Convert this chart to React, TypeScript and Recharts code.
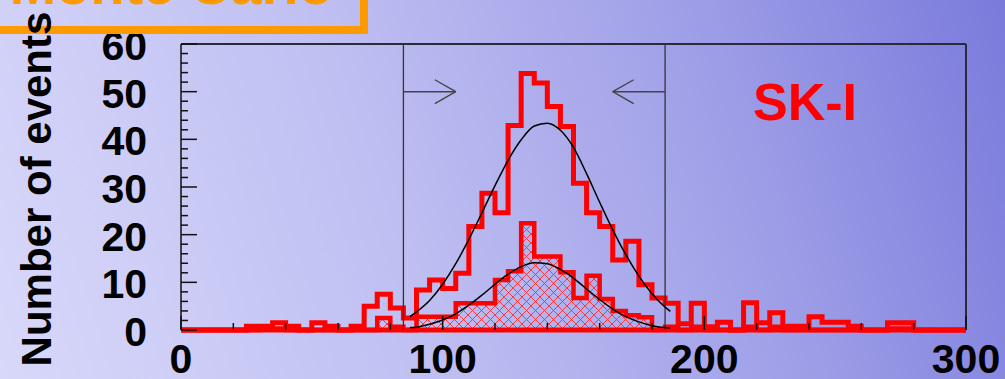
import React from "react";
import { ComposedChart, Area, Line, XAxis, YAxis, ReferenceLine } from "recharts";

// histogram, 5 units per bin, 0..300
const binWidth = 5;
const allEvents = [
  0, 0, 0, 0, 0, 0.8, 0.8, 1.5, 0.8, 0,
  1.5, 0.8, 0, 0.8, 5, 7.5, 4.6, 2.5, 8.4, 10.5,
  8.7, 11.9, 21.7, 28.7, 24.6, 42.9, 53.8, 51.8, 46.9, 42.7,
  30.8, 24.6, 21.7, 14.7, 18.6, 9.5, 6.7, 5.6, 1.3, 5.6,
  0.7, 1.6, 0, 5.7, 1.5, 3.6, 0.8, 0.8, 2.8, 1.6,
  1.6, 0.8, 0, 0, 1.5, 1.5, 0, 0, 0, 0,
];
const selectedEvents = [
  0, 0, 0, 0, 0, 0, 0.3, 0.3, 0, 0,
  0, 0, 0, 0, 0, 2.5, 0.7, 0, 2.8, 2.8,
  2.8, 5.6, 5.6, 5.6, 10.5, 12.3, 22.4, 15.4, 15.4, 12.1,
  6.7, 11.4, 6.5, 4.0, 3.1, 2.7, 0, 0.7, 0, 0.7,
  0, 0, 0, 0.7, 0, 0.7, 0, 0, 0, 0,
  0, 0, 0, 0, 0.3, 0.3, 0, 0, 0, 0,
];

// fitted curves
const fitX = [87.5, 90, 95, 100, 105, 110, 115, 120, 125, 130, 135, 140, 145, 150, 155, 160, 165, 170, 175, 180, 185, 187];
const fitAll = [2.8, 3.8, 6.2, 9.6, 13.9, 19.0, 24.6, 30.3, 35.6, 39.9, 42.8, 43.4, 41.9, 38.3, 32.8, 26.8, 21.0, 15.8, 11.3, 7.6, 4.8, 3.9];
const fitSel = [0.5, 0.6, 1.2, 2.1, 3.4, 5.2, 7.3, 9.6, 11.7, 13.3, 14.1, 13.9, 12.7, 10.9, 8.6, 6.4, 4.4, 2.8, 1.7, 0.9, 0.5, 0.4];

const xTicks = [0, 20, 40, 60, 80, 100, 120, 140, 160, 180, 200, 220, 240, 260, 280, 300];
const xLabels = [0, 100, 200, 300];
const yTicks = [0, 2, 4, 6, 8, 10, 12, 14, 16, 18, 20, 22, 24, 26, 28, 30, 32, 34, 36, 38, 40, 42, 44, 46, 48, 50, 52, 54, 56, 58, 60];
const yLabels = [0, 10, 20, 30, 40, 50, 60];
const cuts = [85, 185];
const arrowY = 50;
const arrowLen = 20;

const histData = allEvents
  .map((v, i) => ({ x: i * binWidth, all: v, sel: selectedEvents[i] }))
  .concat({ x: allEvents.length * binWidth, all: allEvents[allEvents.length - 1], sel: selectedEvents[selectedEvents.length - 1] });

const fitData = fitX.map((x, i) => ({ x, all: fitAll[i], sel: fitSel[i] }));

const font = "'Liberation Sans', Arial, sans-serif";
const red = "#ff0000";

const XTick = (props: any) => {
  const { x, y, payload } = props;
  const major = xLabels.includes(payload.value);
  return (
    <g>
      <line x1={x} x2={x} y1={y} y2={y - (major ? 14 : 7)} stroke="#111" strokeWidth={1.5} />
      {major && (
        <text x={x} y={y + 43} textAnchor="middle" fontSize={41} fontWeight="bold" fontFamily={font} fill="#000">
          {payload.value}
        </text>
      )}
    </g>
  );
};

const YTick = (props: any) => {
  const { x, y, payload } = props;
  const major = yLabels.includes(payload.value);
  return (
    <g>
      <line x1={x} x2={x + (major ? 16 : 7)} y1={y} y2={y} stroke="#111" strokeWidth={1.5} />
      {major && (
        <text x={x - 34} y={y + 16} textAnchor="end" fontSize={41} fontWeight="bold" fontFamily={font} fill="#000">
          {payload.value}
        </text>
      )}
    </g>
  );
};

export default function App() {
  return (
    <div
      style={{
        position: "absolute",
        left: 0,
        top: 0,
        width: 1005,
        height: 379,
        overflow: "hidden",
        background: "linear-gradient(72deg, rgb(216,216,250) 0%, rgb(190,190,242) 40%, rgb(160,160,232) 70%, rgb(122,122,220) 100%)",
      }}
    >
      <ComposedChart width={1005} height={379} data={histData} margin={{ top: 44, right: 39, bottom: 0, left: 0 }}>
        <defs>
          <pattern id="hatch" width="9" height="9" patternUnits="userSpaceOnUse">
            <path d="M0,0 L9,9 M9,0 L0,9" stroke="#ff2a2a" strokeWidth="0.9" />
          </pattern>
        </defs>
        <XAxis
          dataKey="x"
          type="number"
          domain={[0, 300]}
          ticks={xTicks}
          interval={0}
          height={49}
          tickSize={0}
          tickMargin={0}
          tick={<XTick />}
          axisLine={false}
        />
        <YAxis
          type="number"
          domain={[0, 60]}
          ticks={yTicks}
          interval={0}
          width={181}
          tickSize={0}
          tickMargin={0}
          tick={<YTick />}
          axisLine={{ stroke: "#111", strokeWidth: 1.5 }}
        />
        <ReferenceLine y={60} stroke="#2a2a3a" strokeWidth={2} />
        <ReferenceLine x={300} stroke="#2a2a3a" strokeWidth={2} />
        <ReferenceLine y={0} stroke={red} strokeWidth={5} />
        {cuts.map((c) => (
          <ReferenceLine key={c} x={c} stroke="#333" strokeWidth={1.3} />
        ))}
        <ReferenceLine segment={[{ x: cuts[0], y: arrowY }, { x: cuts[0] + arrowLen, y: arrowY }]} stroke="#444" strokeWidth={1.5} />
        <ReferenceLine segment={[{ x: cuts[0] + arrowLen - 8, y: arrowY + 2.5 }, { x: cuts[0] + arrowLen, y: arrowY }]} stroke="#444" strokeWidth={1.3} />
        <ReferenceLine segment={[{ x: cuts[0] + arrowLen - 8, y: arrowY - 2.5 }, { x: cuts[0] + arrowLen, y: arrowY }]} stroke="#444" strokeWidth={1.3} />
        <ReferenceLine segment={[{ x: cuts[1], y: arrowY }, { x: cuts[1] - arrowLen, y: arrowY }]} stroke="#444" strokeWidth={1.5} />
        <ReferenceLine segment={[{ x: cuts[1] - arrowLen + 8, y: arrowY + 2.5 }, { x: cuts[1] - arrowLen, y: arrowY }]} stroke="#444" strokeWidth={1.3} />
        <ReferenceLine segment={[{ x: cuts[1] - arrowLen + 8, y: arrowY - 2.5 }, { x: cuts[1] - arrowLen, y: arrowY }]} stroke="#444" strokeWidth={1.3} />
        <Area
          type="stepAfter"
          dataKey="sel"
          stroke={red}
          strokeWidth={4.5}
          strokeLinejoin="miter"
          fill="url(#hatch)"
          fillOpacity={1}
          dot={false}
          activeDot={false}
          isAnimationActive={false}
        />
        <Area
          type="stepAfter"
          dataKey="all"
          stroke={red}
          strokeWidth={5}
          strokeLinejoin="miter"
          fill="none"
          dot={false}
          activeDot={false}
          isAnimationActive={false}
        />
        <Line data={fitData} type="monotone" dataKey="all" stroke="#000" strokeWidth={1.5} dot={false} activeDot={false} isAnimationActive={false} />
        <Line data={fitData} type="monotone" dataKey="sel" stroke="#000" strokeWidth={1.5} dot={false} activeDot={false} isAnimationActive={false} />
      </ComposedChart>
      <svg width={1005} height={379} style={{ position: "absolute", left: 0, top: 0, pointerEvents: "none" }}>
        <rect x={-20} y={-60} width={384} height={90} fill="none" stroke="#ff9900" strokeWidth={8} />
        <text x={333} y={4} textAnchor="end" fontSize={56} fontWeight="bold" fontFamily={font} fill="#ff9900">
          Monte Carlo
        </text>
        <text x={51} y={189} transform="rotate(-90, 51, 189)" textAnchor="middle" fontSize={42} fontWeight="bold" fontFamily={font} fill="#000">
          Number of events
        </text>
        <text x={753} y={120} fontSize={52} fontWeight="bold" fontFamily={font} fill={red}>
          SK-I
        </text>
      </svg>
    </div>
  );
}
